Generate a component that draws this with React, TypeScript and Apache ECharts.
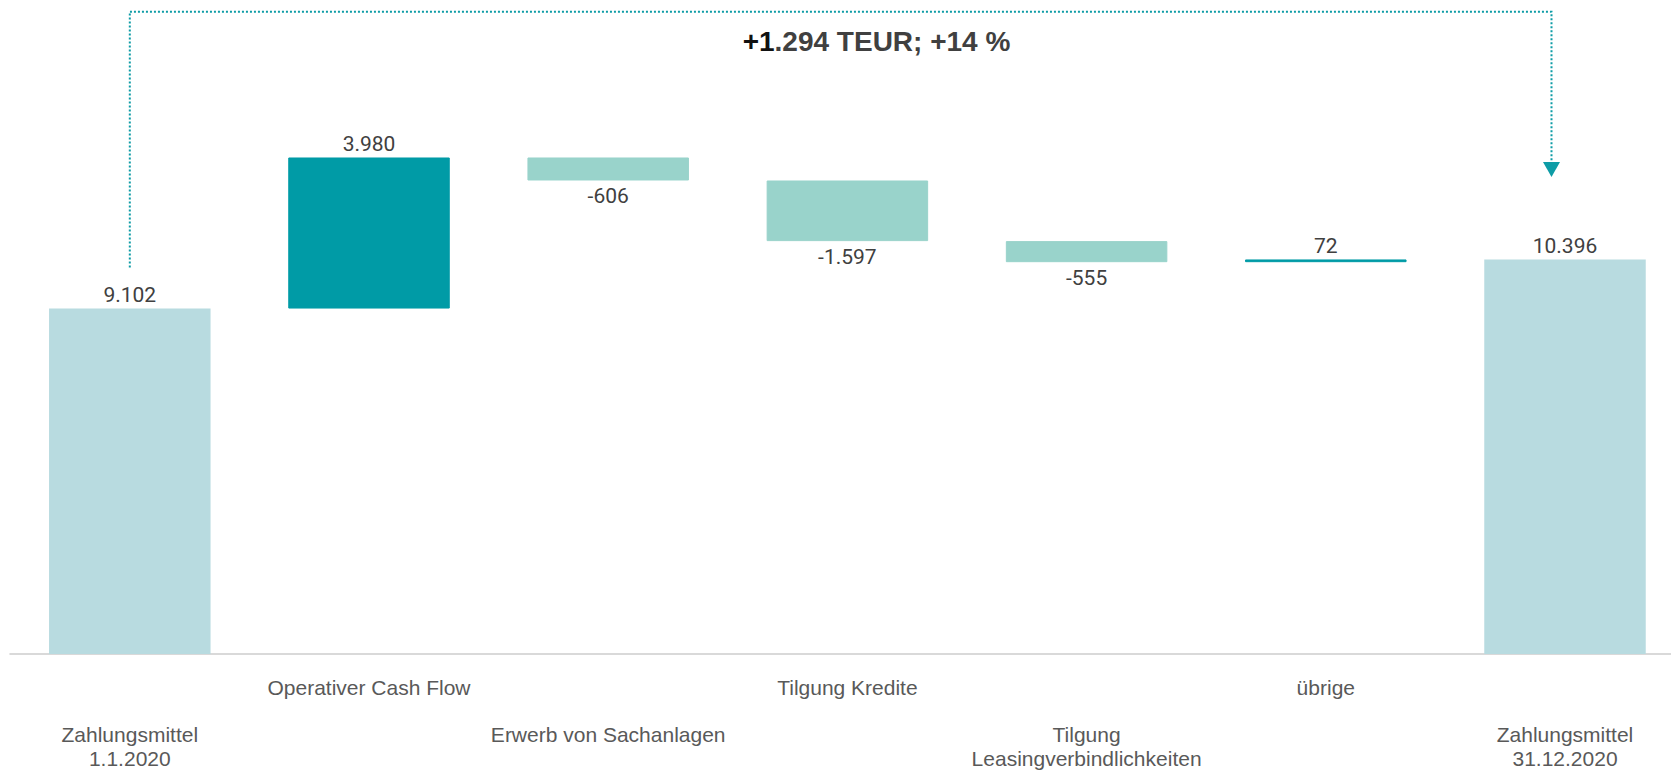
import React, { useEffect, useRef } from "react";
import * as echarts from "echarts";

const categories = [
  "Zahlungsmittel\n1.1.2020",
  "Operativer Cash Flow",
  "Erwerb von Sachanlagen",
  "Tilgung Kredite",
  "Tilgung\nLeasingverbindlichkeiten",
  "übrige",
  "Zahlungsmittel\n31.12.2020",
];
const startValue = 9102;
const changes = [3980, -606, -1597, -555, 72];
const endValue = 10396;
const headline = ["+1", ".294 TEUR; +14 %"];

const COLOR_TOTAL = "#B8DBE0";
const COLOR_POS = "#009BA6";
const COLOR_NEG = "#99D3CB";
const TEAL = "#0E9CA6";

function fmt(n: number): string {
  const s = String(Math.abs(n)).replace(/\B(?=(\d{3})+(?!\d))/g, ".");
  return (n < 0 ? "-" : "") + s;
}

export default function App() {
  const ref = useRef<HTMLDivElement>(null);
  useEffect(() => {
    if (!ref.current) return;
    const chart = echarts.init(ref.current, null, { renderer: "svg" });

    const base: number[] = [0];
    const items: any[] = [];
    const labelStyle = {
      show: true,
      fontFamily: "Roboto",
      fontSize: 21,
      color: "#404040",
    };
    items.push({
      value: startValue,
      itemStyle: { color: COLOR_TOTAL },
      label: { ...labelStyle, position: "top", distance: 3, formatter: fmt(startValue) },
    });
    let run = startValue;
    changes.forEach((d) => {
      base.push(d >= 0 ? run : run + d);
      const c = d >= 0 ? COLOR_POS : COLOR_NEG;
      items.push({
        value: Math.abs(d),
        itemStyle: { color: c, borderColor: c, borderWidth: 1 },
        label:
          d >= 0
            ? { ...labelStyle, position: "top", distance: 3, formatter: fmt(d) }
            : { ...labelStyle, position: "bottom", distance: 5, formatter: fmt(d) },
      });
      run += d;
    });
    base.push(0);
    items.push({
      value: endValue,
      itemStyle: { color: COLOR_TOTAL },
      label: { ...labelStyle, position: "top", distance: 3, formatter: fmt(endValue) },
    });

    chart.setOption({
      animation: false,
      grid: {
        left: 10.2,
        top: 8.8,
        width: 1674.4,
        height: 645.2,
        containLabel: false,
        outerBoundsMode: "none",
      },
      xAxis: {
        type: "category",
        data: categories,
        axisLine: { show: true, lineStyle: { color: "#D9D9D9", width: 2 } },
        axisTick: { show: false },
        axisLabel: {
          interval: 0,
          margin: 22,
          fontFamily: "Liberation Sans",
          fontSize: 21,
          lineHeight: 23.5,
          color: "#595959",
          hideOverlap: false,
          formatter: (v: string, i: number) => (i % 2 === 0 ? "\n\n" + v : v),
        },
      },
      yAxis: {
        type: "value",
        min: 0,
        max: 17000,
        show: false,
        splitLine: { show: false },
      },
      series: [
        {
          type: "bar",
          stack: "wf",
          data: base,
          barWidth: 161.5,
          itemStyle: { color: "transparent" },
          label: { show: false },
          silent: true,
        },
        {
          type: "bar",
          stack: "wf",
          data: items,
          barWidth: 161.5,
        },
      ],
    });

    const x0 = chart.convertToPixel({ xAxisIndex: 0 }, 0) as number;
    const x6 = chart.convertToPixel({ xAxisIndex: 0 }, categories.length - 1) as number;
    const yStart = chart.convertToPixel({ yAxisIndex: 0 }, startValue) as number;
    const yEnd = chart.convertToPixel({ yAxisIndex: 0 }, endValue) as number;
    const topY = 11.7;
    const xa = x6 - 13.5;
    const tipY = yEnd - 82.5;
    const arrowTop = tipY - 15;

    chart.setOption({
      graphic: [
        {
          type: "polyline",
          shape: {
            points: [
              [x0, yStart - 41],
              [x0, topY],
              [xa, topY],
              [xa, arrowTop],
            ],
          },
          style: { stroke: TEAL, lineWidth: 2, lineDash: [2, 2], fill: null },
          silent: true,
        },
        {
          type: "polygon",
          shape: {
            points: [
              [xa - 8.5, arrowTop],
              [xa + 8.5, arrowTop],
              [xa, tipY],
            ],
          },
          style: { fill: TEAL, stroke: null },
          silent: true,
        },
        {
          type: "text",
          x: 876.5,
          y: 41,
          style: {
            text: `{a|${headline[0]}}{b|${headline[1]}}`,
            align: "center",
            verticalAlign: "middle",
            fontFamily: "Liberation Sans",
            fontSize: 28,
            fontWeight: "bold",
            rich: {
              a: { fontFamily: "Liberation Sans", fontSize: 28, fontWeight: "bold", fill: "#111111" },
              b: { fontFamily: "Liberation Sans", fontSize: 28, fontWeight: "bold", fill: "#404040" },
            },
          },
        },
      ],
    });

    return () => chart.dispose();
  }, []);
  return (
    <div
      ref={ref}
      style={{ position: "absolute", left: 0, top: 0, width: 1671, height: 770 }}
    />
  );
}
